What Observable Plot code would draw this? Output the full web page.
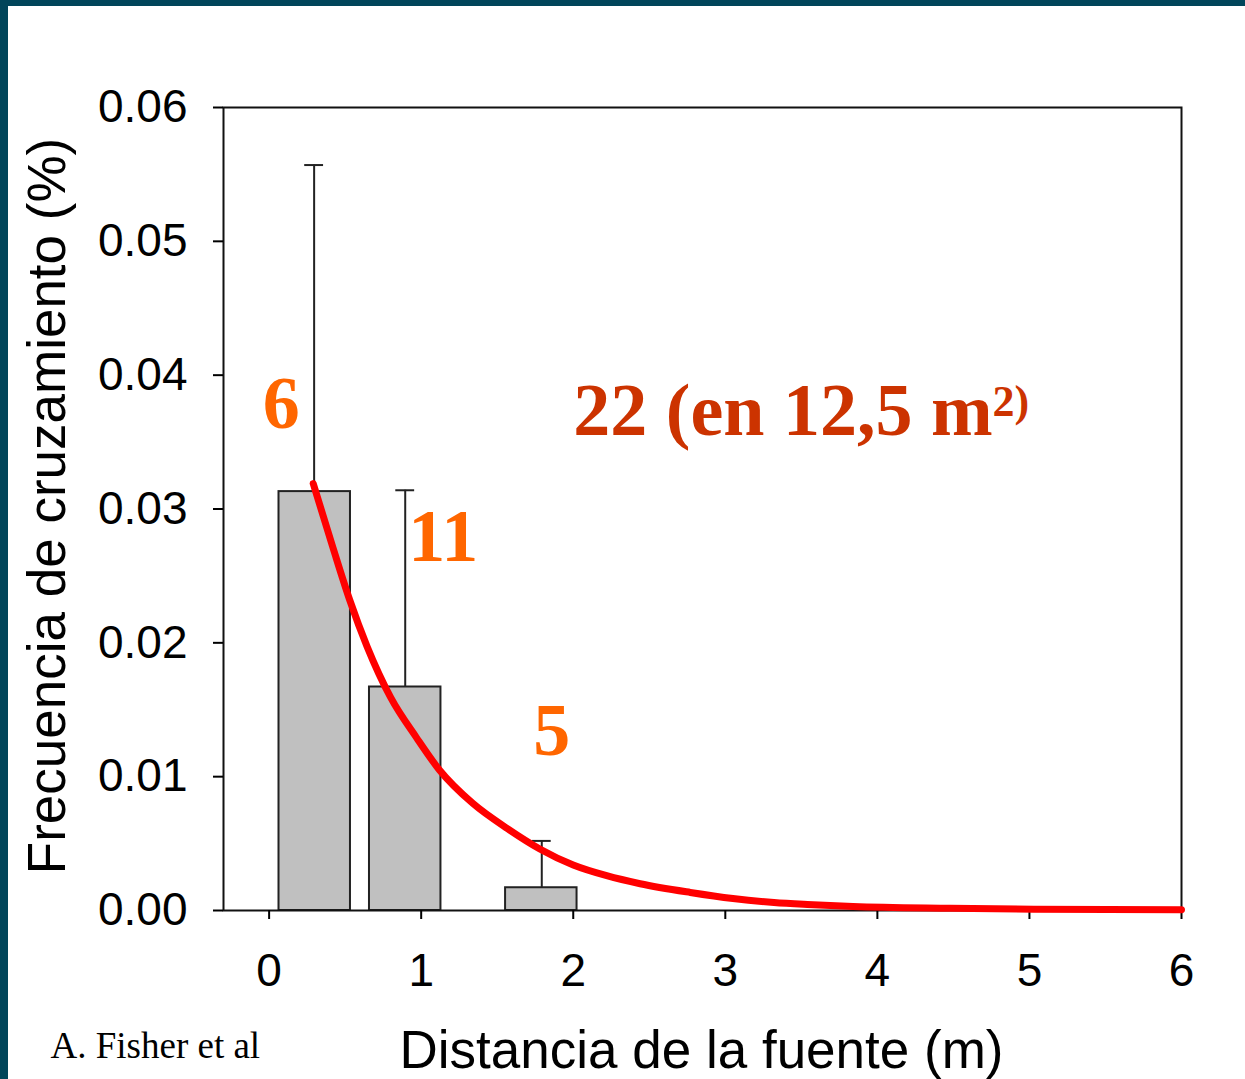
<!DOCTYPE html>
<html><head><meta charset="utf-8">
<script src="https://cdn.jsdelivr.net/npm/d3@7"></script>
<script src="https://cdn.jsdelivr.net/npm/@observablehq/plot@0.6"></script>
<style>
html,body{margin:0;padding:0;background:#fff;}
#wrap{position:relative;width:1245px;height:1079px;overflow:hidden;background:#fff;}
.strip{position:absolute;background:#01455a;}
</style></head><body>
<div id="wrap"><div id="chart"></div>
<div class="strip" style="left:0;top:0;width:1245px;height:6px"></div>
<div class="strip" style="left:0;top:0;width:8px;height:1079px"></div></div>
<script>
// Bars (distance bins) and their values
const binStart = [0.065, 0.66, 1.555];
const binEnd = [0.535, 1.13, 2.025];
const barValue = [0.0313, 0.0167, 0.0017];
// Error bars
const errCenter = [0.296, 0.895, 1.793];
const errTop = [0.0557, 0.0314, 0.0052];
// Fitted curve
const curveX = [0.29, 0.42, 0.53, 0.645, 0.80, 0.97, 1.12, 1.34, 1.57, 1.78, 2.0, 2.22, 2.44, 2.77, 3.05, 3.32, 3.54, 3.84, 4.48, 5.03, 6.0];
const curveY = [0.0319, 0.0271, 0.0232, 0.0197, 0.0159, 0.0129, 0.0105, 0.0080, 0.0061, 0.0046, 0.0034, 0.0026, 0.0020, 0.00135, 0.0009, 0.0006, 0.00045, 0.0003, 0.00017, 0.0001, 0.00005];
// Ticks
const xTicks = [0, 1, 2, 3, 4, 5, 6];
const yTicks = [0, 0.01, 0.02, 0.03, 0.04, 0.05, 0.06];
// Count annotations
const countLabels = ["6", "11", "5"];
const countX = [0.079, 1.145, 1.859];
const countY = [0.0378, 0.0279, 0.0134];
const totalLabel = "22 (en 12,5 m";
const totalSup = "2)";
const totalX = 2.0, totalY = 0.0373;
const xTitle = "Distancia de la fuente (m)";
const yTitle = "Frecuencia de cruzamiento (%)";
const caption = "A. Fisher et al";

const bars = binStart.map((s, i) => ({x1: s, x2: binEnd[i], y: barValue[i]}));
const errs = errCenter.map((c, i) => ({c, v: barValue[i], top: errTop[i]}));
const curve = curveX.map((x, i) => ({x, y: curveY[i]}));
const counts = countLabels.map((t, i) => ({t, x: countX[i], y: countY[i]}));
const cap = 0.062;

const chart = Plot.plot({
  width: 1245, height: 1079,
  marginLeft: 223, marginRight: 64, marginTop: 107, marginBottom: 169,
  style: {fontFamily: "'Liberation Sans', Arial, sans-serif", fontSize: "46px", background: "white", overflow: "visible", color: "#000"},
  x: {domain: [-0.3, 6]},
  y: {domain: [0, 0.06]},
  marks: [
    Plot.rectY(bars, {x1: "x1", x2: "x2", y: "y", fill: "#c0c0c0", stroke: "#222", strokeWidth: 2}),
    Plot.ruleX(errs, {x: "c", y1: "v", y2: "top", stroke: "#222", strokeWidth: 2}),
    Plot.ruleY(errs, {y: "top", x1: d => d.c - cap, x2: d => d.c + cap, stroke: "#222", strokeWidth: 2}),
    Plot.frame({stroke: "#111", strokeWidth: 2}),
    Plot.axisY({ticks: yTicks, tickFormat: d3.format(".2f"), tickSize: 10, tickPadding: 26, strokeWidth: 2, fontSize: 46, label: null}),
    Plot.axisX({ticks: xTicks, tickFormat: d => String(d), tickSize: 9, tickPadding: 34, strokeWidth: 2, fontSize: 46, label: null}),
    Plot.line(curve, {x: "x", y: "y", stroke: "#ff0000", strokeWidth: 7, curve: "monotone-x"}),
    Plot.text(counts, {x: "x", y: "y", text: "t", fill: "#ff6600", fontSize: 74, fontWeight: "bold", fontFamily: "'Liberation Serif', 'Times New Roman', serif"}),
    Plot.text([totalLabel], {x: totalX, y: totalY, text: d => d, textAnchor: "start", fill: "#cc3300", fontSize: 74, fontWeight: "bold", fontFamily: "'Liberation Serif', 'Times New Roman', serif"}),
    Plot.text([xTitle], {frameAnchor: "bottom", text: d => d, textAnchor: "middle", lineAnchor: "middle", dx: -1, dy: 141, fontSize: 53}),
    Plot.text([yTitle], {frameAnchor: "left", text: d => d, rotate: -90, textAnchor: "middle", lineAnchor: "middle", dx: -175, dy: -3, fontSize: 53}),
    Plot.text([caption], {frameAnchor: "bottom-left", text: d => d, textAnchor: "start", lineAnchor: "middle", dx: -173, dy: 136, fontSize: 37, fontFamily: "'Liberation Serif', 'Times New Roman', serif"})
  ]
});
document.getElementById("chart").appendChild(chart);
// superscript "2)" after the total label
chart.querySelectorAll("text").forEach(t => {
  if (t.textContent === totalLabel) {
    const ts = document.createElementNS("http://www.w3.org/2000/svg", "tspan");
    ts.setAttribute("font-size", "44");
    ts.setAttribute("dy", "-19");
    ts.textContent = totalSup;
    t.appendChild(ts);
  }
});
</script>
</body></html>
